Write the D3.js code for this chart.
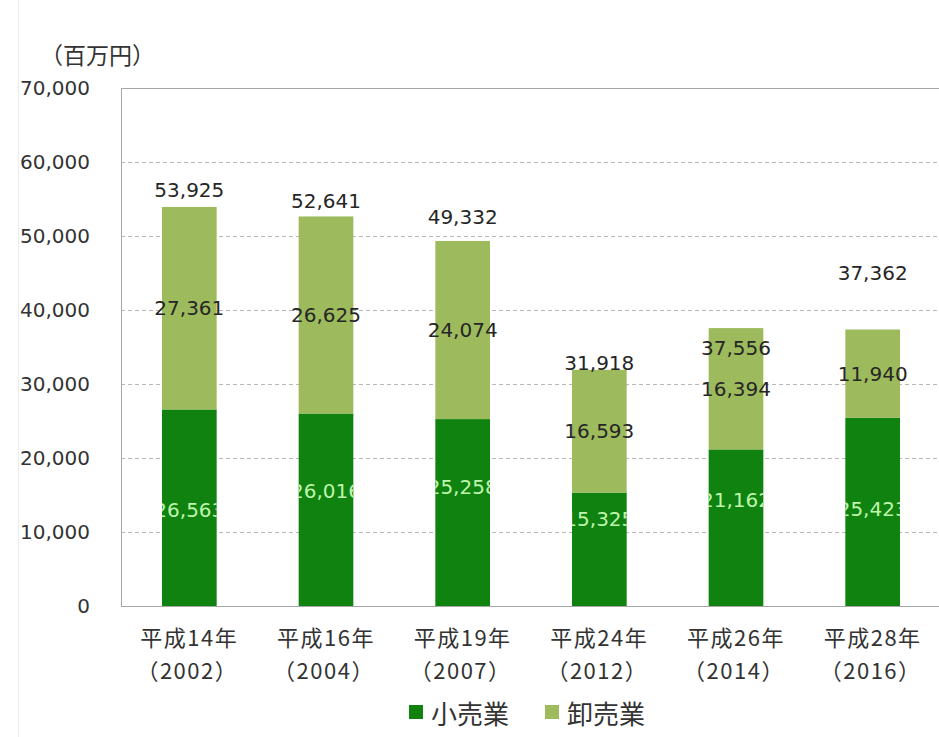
<!DOCTYPE html>
<html>
<head>
<meta charset="utf-8">
<script src="https://cdn.jsdelivr.net/npm/d3@7"></script>
<style>
  body { margin: 0; background: #fff; }
  svg { display: block; }
</style>
</head>
<body>
<div id="chart"></div>
<script>
// データ
const eras = ['平成14年', '平成16年', '平成19年', '平成24年', '平成26年', '平成28年'];
const years = ['（2002）', '（2004）', '（2007）', '（2012）', '（2014）', '（2016）'];
const retail = [26563, 26016, 25258, 15325, 21162, 25423];      // 小売業
const wholesale = [27361, 26625, 24074, 16593, 16394, 11940];   // 卸売業
const totals = [53925, 52641, 49332, 31918, 37556, 37362];
const yTicks = [0, 10000, 20000, 30000, 40000, 50000, 60000, 70000];
const seriesNames = ['小売業', '卸売業'];

// ラベルのずれ（元の図に合わせる）
const totalLabelDy = [-17, -15, -24, -7, 20, -57];
const retailLabelDy = [2, -19, -26, -30, -28, -3];

const W = 939, H = 737;
const colors = ['#0f820f', '#9dbb5d'];
const numFont = '"DejaVu Sans", sans-serif';
const jpFont = '"Noto Sans CJK JP", sans-serif';

const svg = d3.select('#chart')
    .append('svg')
    .attr('width', W)
    .attr('height', H);

// 外枠（薄い）
svg.append('rect')
    .attr('x', 18.5).attr('y', -1)
    .attr('width', W).attr('height', H + 2)
    .attr('fill', 'none')
    .attr('stroke', '#ececec');

const plot = {left: 121, right: 941, top: 88, bottom: 606};

const x = d3.scaleBand()
    .domain(d3.range(eras.length))
    .range([plot.left, plot.right])
    .paddingInner(0.6)
    .paddingOuter(0.3);

const y = d3.scaleLinear()
    .domain([0, 70000])
    .range([plot.bottom, plot.top]);

// グリッド線
svg.append('g')
    .selectAll('line')
    .data(yTicks.filter(d => d > 0 && d < 70000))
    .enter()
    .append('line')
    .attr('x1', plot.left).attr('x2', plot.right)
    .attr('y1', d => Math.round(y(d)) + 0.5)
    .attr('y2', d => Math.round(y(d)) + 0.5)
    .attr('stroke', '#b8b8b8')
    .attr('stroke-dasharray', '4,3');

// プロット枠
svg.append('rect')
    .attr('x', plot.left + 0.5).attr('y', plot.top + 0.5)
    .attr('width', plot.right - plot.left)
    .attr('height', plot.bottom - plot.top)
    .attr('fill', 'none')
    .attr('stroke', '#a6a6a6');

// Y軸ラベル
const yAxis = d3.axisLeft(y)
    .tickValues(yTicks)
    .tickFormat(d3.format(','))
    .tickSize(0)
    .tickPadding(0);
const yg = svg.append('g')
    .attr('transform', `translate(90,0)`)
    .call(yAxis);
yg.select('.domain').remove();
yg.selectAll('text')
    .attr('font-family', numFont)
    .attr('font-size', 20)
    .attr('fill', '#333');

// 単位
svg.append('text')
    .attr('x', 40).attr('y', 54)
    .attr('dominant-baseline', 'central')
    .attr('font-family', jpFont)
    .attr('font-size', 23)
    .attr('fill', '#333')
    .text('（百万円）');

// 積み上げ
const table = eras.map((e, i) => ({i: i, retail: retail[i], wholesale: wholesale[i]}));
const stacked = d3.stack().keys(['retail', 'wholesale'])(table);

const defs = svg.append('defs');
defs.selectAll('clipPath')
    .data(stacked[0])
    .enter()
    .append('clipPath')
    .attr('id', (d, i) => 'clip' + i)
    .append('rect')
    .attr('x', d => x(d.data.i))
    .attr('y', d => y(d[1]))
    .attr('width', x.bandwidth())
    .attr('height', d => y(d[0]) - y(d[1]));

svg.append('g')
    .selectAll('g')
    .data(stacked)
    .enter()
    .append('g')
    .attr('fill', (d, k) => colors[k])
    .selectAll('rect')
    .data(d => d)
    .enter()
    .append('rect')
    .attr('x', d => x(d.data.i))
    .attr('y', d => y(d[1]))
    .attr('width', x.bandwidth())
    .attr('height', d => y(d[0]) - y(d[1]));

// 小売業ラベル（棒の中でクリップ）
svg.append('g')
    .selectAll('text')
    .data(stacked[0])
    .enter()
    .append('text')
    .attr('clip-path', (d, i) => `url(#clip${i})`)
    .attr('x', d => x(d.data.i) + x.bandwidth() / 2)
    .attr('y', (d, i) => (y(d[0]) + y(d[1])) / 2 + retailLabelDy[i])
    .attr('text-anchor', 'middle')
    .attr('dominant-baseline', 'central')
    .attr('font-family', numFont)
    .attr('font-size', 20)
    .attr('fill', '#bff5ad')
    .text(d => d3.format(',')(d.data.retail));

// 卸売業ラベル
svg.append('g')
    .selectAll('text')
    .data(stacked[1])
    .enter()
    .append('text')
    .attr('x', d => x(d.data.i) + x.bandwidth() / 2)
    .attr('y', d => (y(d[0]) + y(d[1])) / 2)
    .attr('text-anchor', 'middle')
    .attr('dominant-baseline', 'central')
    .attr('font-family', numFont)
    .attr('font-size', 20)
    .attr('fill', '#262626')
    .text(d => d3.format(',')(d.data.wholesale));

// 合計ラベル
svg.append('g')
    .selectAll('text')
    .data(totals)
    .enter()
    .append('text')
    .attr('x', (d, i) => x(i) + x.bandwidth() / 2)
    .attr('y', (d, i) => y(d) + totalLabelDy[i])
    .attr('text-anchor', 'middle')
    .attr('dominant-baseline', 'central')
    .attr('font-family', numFont)
    .attr('font-size', 20)
    .attr('fill', '#262626')
    .text(d => d3.format(',')(d));

// X軸ラベル
const xg = svg.append('g');
xg.selectAll('text.era')
    .data(eras)
    .enter()
    .append('text')
    .attr('class', 'era')
    .attr('x', (d, i) => x(i) + x.bandwidth() / 2)
    .attr('y', 636)
    .attr('text-anchor', 'middle')
    .attr('dominant-baseline', 'central')
    .attr('font-family', jpFont)
    .attr('font-size', 22)
    .attr('letter-spacing', 1.5)
    .attr('fill', '#333')
    .text(d => d);
xg.selectAll('text.year')
    .data(years)
    .enter()
    .append('text')
    .attr('class', 'year')
    .attr('x', (d, i) => x(i) + x.bandwidth() / 2 - 2)
    .attr('y', 669)
    .attr('text-anchor', 'middle')
    .attr('dominant-baseline', 'central')
    .attr('font-family', jpFont)
    .attr('font-size', 22)
    .attr('letter-spacing', 1.5)
    .attr('fill', '#333')
    .text(d => d);

// 凡例
const legendX = [409, 545];
const legend = svg.append('g')
    .selectAll('g')
    .data(seriesNames)
    .enter()
    .append('g')
    .attr('transform', (d, i) => `translate(${legendX[i]},712)`);
legend.append('rect')
    .attr('x', 0).attr('y', -7)
    .attr('width', 14).attr('height', 14)
    .attr('fill', (d, i) => colors[i]);
legend.append('text')
    .attr('x', 22).attr('y', 0)
    .attr('dominant-baseline', 'central')
    .attr('font-family', jpFont)
    .attr('font-size', 26)
    .attr('fill', '#333')
    .text(d => d);
</script>
</body>
</html>
